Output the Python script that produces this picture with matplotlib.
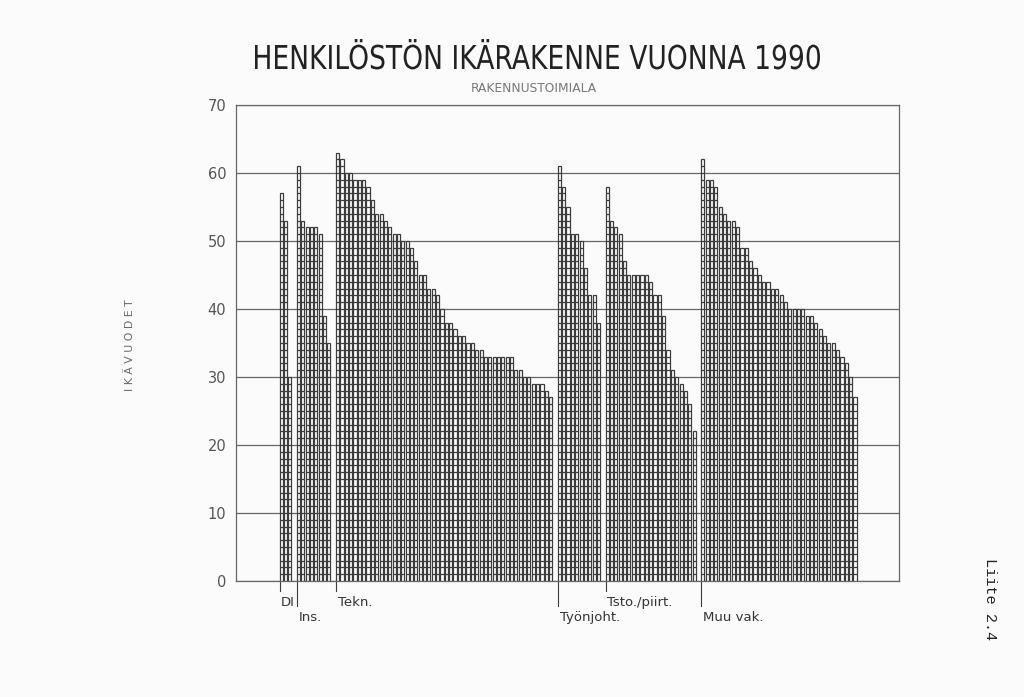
import matplotlib
matplotlib.use('Agg')
import matplotlib.pyplot as plt
from matplotlib.collections import LineCollection
from matplotlib.textpath import TextPath
from matplotlib.patches import PathPatch
from matplotlib.font_manager import FontProperties
from matplotlib.transforms import Affine2D

# ages, sorted high -> low inside each personnel group
groups = ['DI', 'Ins.', 'Tekn.', 'Työnjoht.', 'Tsto./piirt.', 'Muu vak.']
di = [57, 53, 30]
ins = [61, 53, 52, 52, 52, 51, 39, 35]
tekn = [63, 62, 60, 60, 59, 59, 59, 58, 56, 54, 54, 53, 52, 51, 51, 50, 50, 49, 47, 45,
        45, 43, 43, 42, 40, 38, 38, 37, 36, 36, 35, 35, 34, 34, 33, 33, 33, 33, 33, 33,
        33, 31, 31, 30, 30, 29, 29, 29, 28, 27]
tyonjoht = [61, 58, 55, 51, 51, 50, 46, 42, 42, 38]
tsto = [58, 53, 52, 51, 47, 45, 45, 45, 45, 45, 44, 42, 42, 39, 34, 31, 30, 29, 28, 26, 22]
muu = [62, 59, 59, 58, 55, 54, 53, 53, 52, 49, 49, 47, 46, 45, 44, 44, 43, 43, 42, 41,
       40, 40, 40, 40, 39, 39, 38, 37, 36, 35, 35, 34, 33, 32, 30, 27]
yticks = [0, 10, 20, 30, 40, 50, 60, 70]
title = 'HENKILÖSTÖN IKÄRAKENNE VUONNA 1990'

ink = '#3c3c3c'
W, H = 1024, 697
fig = plt.figure(figsize=(W / 100, H / 100), dpi=100, facecolor='#fbfbfb')
ax = fig.add_axes([0.2305, 0.1664, 0.6475, 0.683])
ax.set_facecolor('#fbfbfb')

# lay the bars out one unit apart, one empty slot between groups
xs, hs, starts = [], [], []
pos = 10
for vals in [di, ins, tekn, tyonjoht, tsto, muu]:
    starts.append(pos)
    for v in vals:
        xs.append(pos)
        hs.append(v)
        pos += 1
    pos += 1

w = 0.72
ax.bar(xs, hs, width=w, align='edge', color='white', edgecolor=ink,
       linewidth=0.9, zorder=3)

# each bar is a stack of one-year boxes
segs = []
for x, h in zip(xs, hs):
    for k in range(1, h):
        segs.append([(x, k), (x + w, k)])
ax.add_collection(LineCollection(segs, colors=ink, linewidths=0.9, zorder=4))

ax.set_xlim(0, 152.5)
ax.set_ylim(0, 70)
ax.set_yticks(yticks)
ax.set_yticklabels([str(t) for t in yticks], fontsize=10.5, color='#555')
ax.tick_params(axis='y', length=0, pad=7)
ax.set_xticks([])
ax.grid(axis='y', color='#666', linewidth=0.9, zorder=0)
for s in ax.spines.values():
    s.set_color('#666')
    s.set_linewidth(0.9)

# group markers under the axis, labels in two staggered rows
trans = ax.get_xaxis_transform()
for i, (g, x0) in enumerate(zip(groups, starts)):
    row = i % 2
    tick_end = -0.021 if row == 0 else -0.053
    ax.plot([x0, x0], [0, tick_end], color=ink, lw=0.8, transform=trans, clip_on=False)
    ty = -0.045 if row == 0 else -0.076
    ax.text(x0 + 0.4, ty, g, transform=trans, fontsize=9.5, color='#333',
            ha='left', va='center')

# condensed title: squeeze a text path into the width of the original lettering
tp = TextPath((0, 0), title, size=100, prop=FontProperties(family='DejaVu Sans'))
bb = tp.get_extents()
sx = 565 / bb.width
sy = 24 / 72.9
tr = Affine2D().translate(-bb.x0, 0).scale(sx, sy).translate(255, H - 69)
fig.add_artist(PathPatch(tp, transform=tr, facecolor='#222', edgecolor='none'))

fig.text(0.521, 0.873, 'RAKENNUSTOIMIALA', fontsize=8.8, color='#777',
         ha='center', va='center')
fig.text(0.127, 0.505, 'I K Ä V U O D E T', rotation=90, fontsize=7.8, color='#666',
         ha='center', va='center')
fig.text(0.967, 0.14, 'Liite 2.4', rotation=270, family='Liberation Mono',
         fontsize=11, color='#222', ha='center', va='center')

fig.savefig('out.png', dpi=100, facecolor=fig.get_facecolor())
